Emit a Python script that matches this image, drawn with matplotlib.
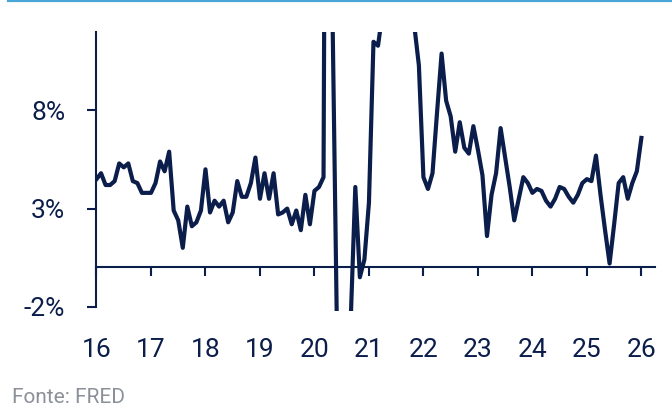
import numpy as np
import matplotlib
matplotlib.use("Agg")
import matplotlib.pyplot as plt
from matplotlib.lines import Line2D

plt.rcParams['font.family'] = ['Roboto', 'DejaVu Sans']

# monthly values, Jan 2016 .. Jan 2026 (%)
start_year = 2016
values = [
    4.5, 4.8, 4.2, 4.2, 4.4, 5.3, 5.1, 5.3, 4.4, 4.3, 3.8, 3.8,      # 2016
    3.8, 4.3, 5.4, 4.9, 5.9, 2.9, 2.4, 1.0, 3.1, 2.1, 2.3, 2.9,      # 2017
    5.0, 2.8, 3.4, 3.1, 3.4, 2.3, 2.8, 4.4, 3.6, 3.6, 4.3, 5.6,      # 2018
    3.5, 4.8, 3.5, 4.8, 2.7, 2.8, 3.0, 2.2, 2.9, 1.9, 3.7, 2.2,      # 2019
    3.9, 4.1, 4.6, 60.0, 12.5, -4.0, -8.0, -6.0, -2.6, 4.1, -0.5, 0.4,  # 2020
    3.3, 11.5, 11.3, 13.0, 15.0, 16.0, 15.0, 14.0, 14.0, 14.0, 12.3, 10.3,  # 2021
    4.6, 4.0, 4.8, 7.9, 10.9, 8.5, 7.7, 5.9, 7.4, 6.1, 5.8, 7.2,     # 2022
    6.0, 4.7, 1.6, 3.7, 4.8, 7.1, 5.6, 4.1, 2.4, 3.5, 4.6, 4.3,      # 2023
    3.8, 4.0, 3.9, 3.4, 3.1, 3.5, 4.1, 4.0, 3.6, 3.3, 3.7, 4.3,      # 2024
    4.5, 4.4, 5.7, 3.7, 1.9, 0.2, 2.2, 4.3, 4.6, 3.5, 4.3, 4.9,      # 2025
    6.6,                                                            # 2026
]
year_ticks = list(range(2016, 2027))
year_labels = [str(y)[2:] for y in year_ticks]
y_ticks = [-2, 3, 8]
y_labels = ['-2%', '3%', '8%']
source = 'Fonte: FRED'

navy = '#0b1d4a'
x = start_year + np.arange(len(values)) / 12.0

fig = plt.figure(figsize=(6.72, 4.09), dpi=100)
ax = fig.add_axes([0.1436, 0.2406, 0.8311, 0.6812])

ax.plot(x, values, color=navy, lw=3.0, solid_joinstyle='round', clip_on=True)

ax.set_xlim(2016, 2026.25)
ax.set_ylim(-2.2, 12)

for s in ['top', 'right']:
    ax.spines[s].set_visible(False)
ax.spines['left'].set_bounds(-2, 12)
ax.spines['left'].set_color(navy)
ax.spines['left'].set_linewidth(1.5)
ax.spines['bottom'].set_position(('data', 0))
ax.spines['bottom'].set_color(navy)
ax.spines['bottom'].set_linewidth(1.5)

ax.set_xticks(year_ticks)
ax.set_xticklabels(year_labels)
ax.set_yticks(y_ticks)
ax.set_yticklabels(y_labels)
ax.tick_params(axis='x', direction='out', length=6.5, width=1.5, color=navy,
               labelcolor=navy, labelsize=19, pad=44)
ax.tick_params(axis='y', direction='out', length=6.5, width=1.5, color=navy,
               labelcolor=navy, labelsize=19, pad=16)

fig.add_artist(Line2D([0.012, 1.0], [0.998, 0.998], transform=fig.transFigure,
                      color='#4aa6d6', lw=1.6))
fig.text(0.018, 0.004, source, color='#8c9099', fontsize=15, ha='left', va='bottom')

fig.savefig('out.png', dpi=100)
